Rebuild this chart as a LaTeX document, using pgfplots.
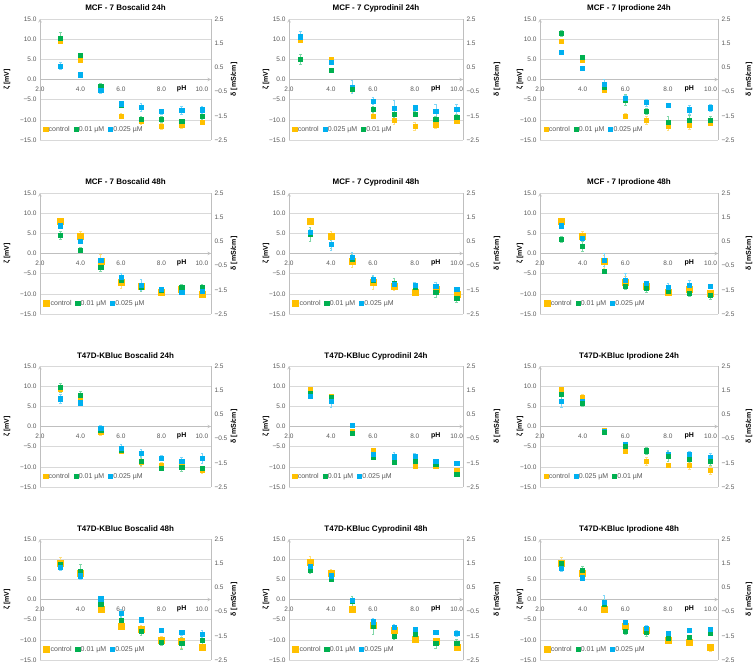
\documentclass[border=0pt]{standalone}
\usepackage{fontspec}
\setmainfont{Liberation Sans}
\usepackage{pgfplots}
\usepackage{pgfplotstable}
\pgfplotsset{compat=1.18}
\definecolor{cOr}{HTML}{FFC000}
\definecolor{cGr}{HTML}{00B050}
\definecolor{cBl}{HTML}{00B0F0}
\definecolor{cGrid}{HTML}{D9D9D9}
\definecolor{cAxis}{HTML}{BFBFBF}
\definecolor{cTxt}{HTML}{595959}
\newcommand{\tickfont}{\fontsize{6.5}{7}\selectfont}
\newcommand{\labfont}{\bfseries\fontsize{7}{8}\selectfont}
\newcommand{\titfont}{\bfseries\fontsize{8}{9}\selectfont}

% MCF-7 Boscalid 24h
\pgfplotstableread{
x c ce g ge b be
3 9.6 0.6 10.3 1.3 3.4 0.9
4 4.9 0.5 6.0 0.6 1.2 0.6
5 -2.2 0.6 -1.6 0.6 -2.7 0.6
6 -9.0 0.6 -6.4 0.5 -6.0 0.5
7 -10.4 0.7 -9.8 0.8 -6.9 0.9
8 -11.6 0.8 -9.9 0.8 -7.9 0.6
9 -11.2 0.9 -10.3 0.5 -7.6 1.0
10 -10.5 0.5 -9.2 0.7 -7.5 0.9
}\tabA
% MCF-7 Cyprodinil 24h
\pgfplotstableread{
x c ce g ge b be
2.55 9.7 0.4 5.0 1.2 10.6 1.3
4 5.0 0.4 2.4 0.3 4.3 0.5
5 -2.5 0.7 -2.3 0.6 -1.8 1.5
6 -9.0 0.6 -7.4 0.8 -5.3 0.9
7 -10.1 1.0 -8.5 0.8 -7.1 2.0
8 -11.5 1.0 -8.5 0.7 -7.0 0.6
9 -11.2 1.0 -9.9 0.9 -7.8 1.6
10 -10.4 0.5 -9.3 0.7 -7.4 1.2
}\tabB
% MCF-7 Iprodione 24h
\pgfplotstableread{
x c ce g ge b be
3 9.5 0.4 11.5 0.8 6.8 0.5
4 4.8 0.6 5.5 0.5 2.8 0.3
5 -2.6 0.5 -1.8 0.8 -1.2 1.2
6 -9.0 0.7 -5.0 1.3 -4.6 0.8
7 -10.1 1.1 -7.9 0.8 -5.7 0.9
8 -11.6 1.0 -10.5 1.4 -6.4 0.4
9 -11.3 1.0 -10.0 1.2 -7.5 1.0
10 -10.7 0.5 -10.1 1.1 -7.0 0.8
}\tabC
% MCF-7 Boscalid 48h
\pgfplotstableread{
x c ce g ge b be
3 8.0 0.8 4.5 1.0 6.9 0.5
4 4.4 1.0 0.9 0.7 3.0 0.5
5 -1.9 1.8 -3.4 0.9 -1.7 0.6
6 -7.2 1.4 -6.6 1.0 -5.9 1.0
7 -8.2 0.7 -8.4 1.0 -7.8 1.3
8 -9.6 0.5 -9.1 0.6 -8.9 0.5
9 -8.8 1.2 -8.4 0.8 -9.6 0.6
10 -10.0 0.4 -8.4 0.9 -9.3 0.9
}\tabD
% MCF-7 Cyprodinil 48h
\pgfplotstableread{
x c ce g ge b be
3 8.0 0.8 4.8 1.7 5.3 0.6
4 4.4 1.0 2.4 1.0 2.2 1.5
5 -1.9 1.6 -1.3 1.0 -0.9 1.2
6 -7.2 1.7 -6.7 1.0 -6.4 1.0
7 -8.1 1.0 -7.4 1.2 -7.7 0.9
8 -9.7 0.5 -8.3 0.8 -7.8 0.7
9 -8.9 1.0 -9.7 1.2 -8.0 0.8
10 -10.0 0.5 -11.0 1.2 -8.8 0.5
}\tabE
% MCF-7 Iprodione 48h
\pgfplotstableread{
x c ce g ge b be
3 8.0 0.8 3.6 0.8 6.9 0.6
4 4.4 1.0 1.8 1.2 3.8 0.5
5 -2.0 1.6 -4.4 0.5 -1.6 1.6
6 -7.2 1.5 -8.0 0.8 -6.6 1.6
7 -8.0 0.8 -8.6 0.9 -7.4 0.6
8 -9.7 0.5 -9.3 0.7 -8.4 1.0
9 -8.8 0.9 -9.9 0.6 -7.9 1.2
10 -9.8 0.5 -10.3 1.1 -8.0 0.4
}\tabF
% T47D-KBluc Boscalid 24h
\pgfplotstableread{
x c ce g ge b be
3 9.2 0.6 9.7 1.1 6.9 1.1
4 7.0 1.2 7.7 1.0 5.9 0.6
5 -1.3 0.8 -0.8 0.8 -0.4 0.6
6 -6.2 0.5 -5.8 0.6 -5.3 0.8
7 -8.8 1.0 -8.5 1.1 -6.6 1.0
8 -9.6 0.8 -10.3 0.5 -7.8 0.6
9 -9.6 1.0 -10.1 1.0 -8.5 0.9
10 -10.8 0.8 -10.4 0.5 -7.9 1.2
}\tabG
% T47D-KBluc Cyprodinil 24h
\pgfplotstableread{
x c ce g ge b be
3 9.3 0.5 8.2 0.6 7.6 0.5
4 7.5 0.5 7.2 0.6 6.2 1.4
5 -1.2 0.5 -1.7 0.5 0.4 0.3
6 -6.0 0.5 -7.6 0.5 -6.8 0.7
7 -8.8 0.5 -8.8 0.5 -7.5 1.0
8 -9.8 0.5 -8.7 1.2 -7.4 0.8
9 -9.8 0.5 -9.4 0.6 -8.6 0.6
10 -10.8 0.5 -11.8 0.6 -9.0 0.5
}\tabH
% T47D-KBluc Iprodione 24h
\pgfplotstableread{
x c ce g ge b be
3 9.3 0.5 8.0 1.2 6.3 1.6
4 7.2 0.7 5.7 0.6 6.3 0.6
5 -1.0 0.5 -1.5 0.5 -1.1 0.5
6 -6.2 0.4 -4.8 0.6 -4.5 0.6
7 -8.6 0.9 -6.0 0.9 -6.0 0.8
8 -9.6 0.5 -7.4 1.2 -6.8 1.0
9 -9.7 0.8 -8.0 1.0 -6.9 0.8
10 -10.8 1.0 -8.5 1.0 -7.6 1.0
}\tabI
% T47D-KBluc Boscalid 48h
\pgfplotstableread{
x c ce g ge b be
3 9.0 1.6 8.8 1.0 8.0 0.8
4 6.6 0.8 6.9 1.8 5.9 0.8
5 -2.4 0.5 -1.2 0.5 0.2 0.5
6 -6.6 0.5 -5.2 1.0 -3.5 1.0
7 -7.4 1.0 -7.8 1.0 -5.0 0.3
8 -10.0 0.8 -10.6 0.8 -7.7 0.5
9 -10.4 1.7 -10.8 1.5 -8.2 0.6
10 -11.9 0.7 -10.1 1.0 -8.5 0.8
}\tabJ
% T47D-KBluc Cyprodinil 48h
\pgfplotstableread{
x c ce g ge b be
3 9.2 1.5 7.4 1.0 8.3 0.8
4 6.6 1.0 5.0 0.5 5.9 0.6
5 -2.4 0.5 -0.4 1.2 -0.2 0.6
6 -6.3 0.8 -6.7 2.0 -5.5 0.8
7 -7.6 0.8 -9.1 0.7 -6.8 0.6
8 -9.9 0.5 -8.6 0.6 -7.4 0.4
9 -10.4 0.8 -10.9 1.2 -8.2 0.4
10 -11.9 0.8 -10.8 0.9 -8.3 0.7
}\tabK
% T47D-KBluc Iprodione 48h
\pgfplotstableread{
x c ce g ge b be
3 9.0 1.6 9.0 0.8 7.8 0.8
4 6.6 0.6 7.2 1.0 5.4 0.4
5 -2.3 0.6 -1.2 1.2 -0.6 1.6
6 -6.5 0.6 -7.9 0.6 -5.7 0.5
7 -7.6 0.8 -8.2 1.0 -7.2 0.8
8 -10.0 0.5 -9.6 0.6 -8.4 0.5
9 -10.6 0.5 -9.3 0.5 -7.6 0.4
10 -11.9 0.9 -8.3 0.5 -7.3 0.5
}\tabL

\pgfplotsset{
  errs/.style={
    error bars/y dir=both, error bars/y explicit,
    error bars/error bar style={#1!50, line width=0.45pt},
    error bars/error mark options={rotate=90, mark size=1.3pt, #1!50, line width=0.45pt},
  },
  cst/.style={only marks, mark=square*, color=cOr, errs=cOr},
  gst/.style={only marks, mark=square*, mark size=2.05pt, color=cGr, errs=cGr},
  bst/.style={only marks, mark=square*, mark size=2.05pt, color=cBl, errs=cBl},
  common/.style={
    scale only axis, height=121pt, anchor=south west, xmin=2,
    major tick length=0pt,
    axis line style={draw=cAxis, line width=0.6pt, -},
    tick label style={font=\tickfont, text=cTxt},
  },
  panel/.style={
    common, ymin=-15, ymax=15,
    axis x line=middle, axis y line=left,
    hide obscured x ticks=false, hide obscured y ticks=false,
    xtick={2,4,6,8,10}, xticklabels={2.0,4.0,6.0,8.0,10.0},
    ytick={-15,-10,-5,0,5,10,15},
    yticklabels={−15.0,−10.0,−5.0,0.0,5.0,10.0,15.0},
    xticklabel style={yshift=-3.5pt},
    ymajorgrids, grid style={cGrid, line width=0.6pt},
    clip=false,
    legend columns=3,
    legend style={at={(0.02,0.087)}, anchor=west, draw=none, fill=none,
      inner sep=0pt, font=\fontsize{7}{8}\selectfont,
      nodes={inner sep=1pt, text=cTxt},
      /tikz/every even column/.append style={column sep=3pt}},
    legend image code/.code={\draw[mark repeat=2, mark phase=2, ##1]
      plot coordinates {(0pt,0pt) (2.5pt,0pt) (5pt,0pt)};},
  },
  rpanel/.style={
    common, ymin=-2.5, ymax=2.5,
    axis y line*=right, hide x axis,
    ytick={-2.5,-1.5,-0.5,0.5,1.5,2.5},
    yticklabels={−2.5,−1.5,−0.5,0.5,1.5,2.5},
  },
}

% #1 x, #2 y, #3 width, #4 xmax, #5 title, #6 table, #7 order, #8 control mark size, #9 column
\newcommand{\panel}[9]{%
  \edef\lofs{\ifcase#9\or33\or23\else20\fi}%
  \edef\rofs{\ifcase#9\or23\or34\else31\fi}%
  \begin{axis}[rpanel, at={(#1,#2)}, width=#3, xmax=#4]
  \end{axis}
  \begin{axis}[panel, at={(#1,#2)}, width=#3, xmax=#4]
    \addplot[mark size=#8, cst] table[x=x, y=c, y error=ce] {#6};
    \addlegendentry{control}
    \ifnum#7=1
      \addplot[gst] table[x=x, y=g, y error=ge] {#6};
      \addlegendentry{0.01 µM}
      \addplot[bst] table[x=x, y=b, y error=be] {#6};
      \addlegendentry{0.025 µM}
    \else
      \addplot[bst] table[x=x, y=b, y error=be] {#6};
      \addlegendentry{0.025 µM}
      \addplot[gst] table[x=x, y=g, y error=ge] {#6};
      \addlegendentry{0.01 µM}
    \fi
    \node[font=\titfont, anchor=base] at ([yshift=8pt]rel axis cs:0.5,1) {#5};
    \node[font=\labfont, rotate=90] at ([xshift=-\lofs pt]rel axis cs:0,0.5) {ζ [mV]};
    \node[font=\labfont, rotate=90] at ([xshift=\rofs pt]rel axis cs:1,0.5) {δ [mS/cm]};
    \node[font=\labfont, yshift=-9pt] at (axis cs:9,0) {pH};
  \end{axis}
}

\begin{document}
\begin{tikzpicture}
\useasboundingbox (0pt,0pt) rectangle (753pt,670pt);
\panel{40pt}{530pt}{171pt}{10.45}{MCF - 7  Boscalid 24h}{\tabA}{1}{2.05pt}{1}
\panel{289pt}{530pt}{174pt}{10.3}{MCF - 7 Cyprodinil 24h}{\tabB}{2}{2.05pt}{2}
\panel{540pt}{530pt}{178pt}{10.35}{MCF - 7 Iprodione 24h}{\tabC}{1}{2.05pt}{3}
\panel{40pt}{356pt}{171pt}{10.45}{MCF - 7 Boscalid 48h}{\tabD}{1}{3.0pt}{1}
\panel{289pt}{356pt}{174pt}{10.3}{MCF - 7 Cyprodinil 48h}{\tabE}{1}{3.0pt}{2}
\panel{540pt}{356pt}{178pt}{10.35}{MCF - 7 Iprodione 48h}{\tabF}{1}{3.0pt}{3}
\panel{40pt}{183pt}{171pt}{10.45}{T47D-KBluc Boscalid 24h}{\tabG}{1}{2.05pt}{1}
\panel{289pt}{183pt}{174pt}{10.3}{T47D-KBluc Cyprodinil 24h}{\tabH}{1}{2.05pt}{2}
\panel{540pt}{183pt}{178pt}{10.35}{T47D-KBluc Iprodione 24h}{\tabI}{2}{2.05pt}{3}
\panel{40pt}{10pt}{171pt}{10.45}{T47D-KBluc Boscalid 48h}{\tabJ}{1}{3.0pt}{1}
\panel{289pt}{10pt}{174pt}{10.3}{T47D-KBluc Cyprodinil 48h}{\tabK}{1}{3.0pt}{2}
\panel{540pt}{10pt}{178pt}{10.35}{T47D-KBluc Iprodione 48h}{\tabL}{1}{3.0pt}{3}
\end{tikzpicture}
\end{document}
